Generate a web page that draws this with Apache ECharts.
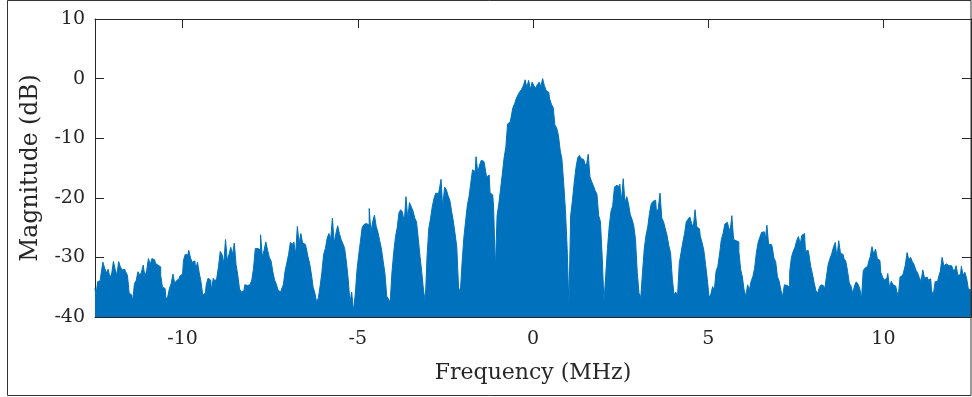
<!DOCTYPE html>
<html>
<head>
<meta charset="utf-8">
<script src="https://cdn.jsdelivr.net/npm/echarts@6/dist/echarts.min.js"></script>
<style>
html,body{margin:0;padding:0;background:#fff;}
#chart{width:972px;height:397px;}
</style>
</head>
<body>
<div id="chart"></div>
<script>
// Frequency grid (MHz): first sample and spacing of the spectrum samples
const freqStartMHz = -12.5;
const freqStepMHz = 0.05;

// Magnitude (dB), one row per 1 MHz (20 samples), from -12.5 MHz up to 12.5 MHz
const magnitudeDb = [
  -35.2,-36.5,-34.1,-33.9,-32.7,-30.8,-31.8,-32.6,-32,-33.4,-32.8,-30.7,-32,-33,-30.7,-31.6,-32.1,-32,-32.4,-33,
  -36,-36.3,-37.5,-34.4,-33.9,-32.4,-33,-32.5,-31.3,-33.2,-32.2,-30.2,-31.2,-30.2,-30.4,-31,-31.3,-31.6,-33,-35,
  -35.2,-37,-36.6,-35.2,-34.4,-32.8,-34.4,-33.9,-33.6,-33.1,-32.8,-30.5,-29.5,-29.6,-28.8,-30.1,-30.8,-30.6,-32,-30.8,
  -32.6,-34.1,-36.3,-36,-34.6,-33.5,-33.8,-35.5,-33.5,-34,-33.5,-31.5,-29,-29.5,-31,-27,-30.5,-29.5,-28.3,-29.5,
  -27.6,-31.2,-33,-35.3,-35.8,-35.6,-34.6,-34.7,-34.6,-34.6,-33.8,-31.8,-28.5,-28.5,-28.8,-26.2,-30,-28.8,-27.4,-28.8,
  -30,-30.6,-32.4,-33.8,-34.5,-35.5,-35.8,-35.3,-34.6,-32.3,-30.9,-29.5,-27.5,-27.8,-27.4,-29.5,-24.8,-27.6,-26,-27.6,
  -27.8,-28.3,-29.8,-31,-32.8,-35,-36,-37.5,-36.8,-34.8,-32.5,-29.5,-28.5,-26.8,-26,-27,-23.4,-27.6,-26,-24.7,
  -26,-27,-27.7,-28.5,-30.8,-33.6,-37.5,-35.8,-39,-36.3,-32.3,-29.6,-27.3,-25,-24.5,-24.3,-24.6,-21.8,-25.8,-24,
  -22.9,-24.8,-25.8,-27.2,-28.6,-30.7,-32.7,-36.5,-37,-37.5,-32.5,-29.2,-26.6,-25,-22.5,-22,-22.4,-24.2,-19.8,-23.5,
  -20.8,-21.5,-22.2,-23.4,-24,-26.8,-29.8,-32.5,-35.5,-37.5,-30,-25.2,-23.5,-21.5,-20.1,-19.2,-19.3,-18.7,-16.9,-21.8,
  -18.2,-18.6,-19.6,-20.4,-22.2,-23.9,-26,-28.3,-35,-36,-31,-26.8,-24,-21.3,-19.8,-17.5,-15.3,-15.6,-13.1,-15.8,
  -14.5,-13.7,-13.9,-14.7,-16.5,-16.2,-19.2,-19.5,-21.5,-32,-23,-21,-18.5,-16,-13.3,-11.5,-7.6,-7.3,-6.5,-4.9,
  -4.2,-3.3,-2.7,-2.2,-1.8,-1.2,-0.2,-1.5,-0.3,-1.8,-0.6,-1.2,-1.6,-1.0,-0.6,-1.3,0.0,-1.2,-2.0,-2.3,
  -3.4,-4.3,-4.8,-7.8,-8.3,-9.5,-12,-13.5,-17.5,-22,-28.5,-38,-23,-20.5,-17.5,-15,-13.3,-12.9,-13.4,-13.6,
  -14.2,-14.6,-12.7,-16.5,-17.3,-18,-18.8,-19.4,-23,-24,-30,-37.5,-33,-28.5,-24.8,-22.3,-21.3,-18.2,-17.9,-18.2,
  -17.7,-20.5,-16.8,-20.8,-19.8,-21,-22.8,-23.6,-24.7,-27,-32.5,-36,-36.8,-32.5,-28.6,-26.3,-24.9,-22.6,-21,-20.6,
  -20.4,-22.5,-21.8,-19.2,-23.4,-24,-25.2,-26.3,-28,-29.2,-33.5,-36.3,-35.8,-36.5,-31,-29.2,-27.5,-26,-24,-23.6,
  -23.2,-24.3,-24.9,-22.0,-24.9,-25.2,-26.5,-27.5,-28.8,-31.2,-33.7,-36.7,-36.2,-34.9,-35.5,-32.3,-31.5,-29.4,-27,-26,
  -24.4,-24.1,-24.8,-25.7,-23.0,-27.0,-27.2,-27.4,-29,-32,-33.3,-35.5,-36.5,-34.6,-35.5,-34,-33.2,-31.8,-29.2,-27.5,
  -26.6,-25.8,-25.7,-27.2,-24.6,-27.9,-27.8,-28.2,-30.1,-30.7,-33.2,-34,-35.5,-36.5,-34.6,-34.7,-35,-32.5,-30,-29,
  -28.3,-27.2,-26.5,-27.7,-26.3,-26,-29,-28.8,-29.5,-31.5,-32.8,-34.3,-35.6,-36,-35,-34.6,-34.8,-35.4,-33.2,-31.2,
  -30.2,-29.4,-28.3,-27.5,-30,-27.2,-29.3,-29.5,-30.2,-30.6,-32.2,-34.3,-34.8,-36,-34.8,-34.1,-34.5,-35.2,-37,-32.2,
  -31.8,-31.5,-30.8,-29.9,-28.2,-29.5,-28.6,-30.2,-30.5,-32.5,-33.3,-33.8,-33.5,-32.7,-35.1,-34,-34.6,-34.8,-35.5,-36.6,
  -33.3,-33,-32.5,-31.3,-29.2,-30.4,-30,-30.7,-31.2,-32.1,-32.6,-33.4,-34,-32.1,-33.5,-33.3,-33.8,-33.6,-35.6,-36.3,
  -34.1,-34,-33.3,-32.3,-30,-31.4,-31.1,-31.4,-31.6,-31.4,-31.9,-32.3,-31.4,-33,-32.9,-31.5,-33,-32.5,-33.5,-35.3,
  -35.5
];

// Axis ticks
const xTickValues = [-10, -5, 0, 5, 10];
const yTickValues = [-40, -30, -20, -10, 0, 10];

const xLabel = 'Frequency (MHz)';
const yLabel = 'Magnitude (dB)';

const seriesData = magnitudeDb.map((v, i) => [Number((freqStartMHz + i * freqStepMHz).toFixed(2)), v]);

const axisColor = '#262626';
const fontFamily = '"DejaVu Serif", "Liberation Serif", serif';

const chart = echarts.init(document.getElementById('chart'), null, {renderer: 'canvas'});

const baseX = {
  type: 'value', min: -12.5, max: 12.5,
  axisLine: {show: true, onZero: false, lineStyle: {color: axisColor, width: 1}},
  axisTick: {show: true, inside: true, length: 9, customValues: xTickValues, lineStyle: {color: axisColor, width: 1}},
  splitLine: {show: false}
};
const baseY = {
  type: 'value', min: -40, max: 10, interval: 10,
  axisLine: {show: true, onZero: false, lineStyle: {color: axisColor, width: 1}},
  axisTick: {show: true, inside: true, length: 9, lineStyle: {color: axisColor, width: 1}},
  splitLine: {show: false}
};

chart.setOption({
  animation: false,
  backgroundColor: '#ffffff',
  grid: {left: 95, right: 1, top: 19, bottom: 80, containLabel: false},
  xAxis: [
    Object.assign({}, baseX, {
      position: 'bottom',
      name: xLabel, nameLocation: 'middle', nameGap: 45,
      nameTextStyle: {fontFamily: fontFamily, fontSize: 22, color: axisColor},
      axisLabel: {show: true, customValues: xTickValues, margin: 13, fontFamily: fontFamily, fontSize: 19, color: axisColor}
    }),
    Object.assign({}, baseX, {position: 'top', axisLabel: {show: false}})
  ],
  yAxis: [
    Object.assign({}, baseY, {
      position: 'left',
      name: yLabel, nameLocation: 'middle', nameGap: 52,
      nameTextStyle: {fontFamily: fontFamily, fontSize: 23.5, color: axisColor},
      axisLabel: {show: true, margin: 10, fontFamily: fontFamily, fontSize: 19, color: axisColor}
    }),
    Object.assign({}, baseY, {position: 'right', axisLabel: {show: false}})
  ],
  graphic: [{
    type: 'rect', z: 100, silent: true,
    shape: {x: 7.5, y: 0.5, width: 963.5, height: 395},
    style: {fill: 'none', stroke: '#333333', lineWidth: 1}
  }],
  series: [{
    type: 'line',
    xAxisIndex: 0, yAxisIndex: 0,
    data: seriesData,
    step: 'middle',
    showSymbol: false,
    symbol: 'none',
    lineStyle: {color: '#0072BD', width: 1},
    areaStyle: {color: '#0072BD', opacity: 1, origin: 'start'},
    z: 1
  }]
});
</script>
</body>
</html>
